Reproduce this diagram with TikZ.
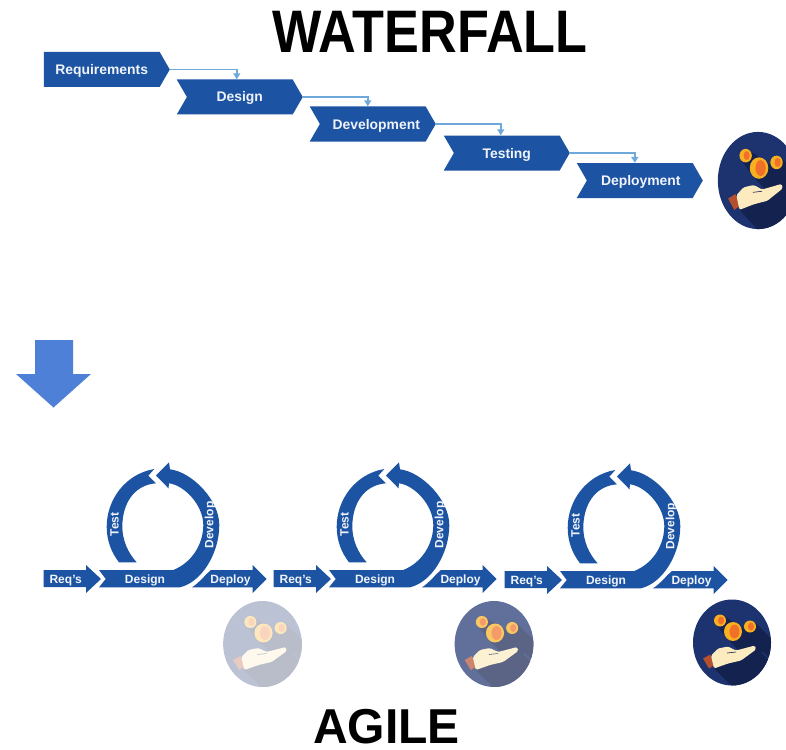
\documentclass[tikz,border=0pt]{standalone}
\usepackage{fontspec}
\setmainfont{Liberation Sans}
\usetikzlibrary{shapes.symbols,arrows.meta}
\definecolor{flowblue}{HTML}{1C54A3}
\definecolor{textwhite}{HTML}{F0F3FA}
\definecolor{linkblue}{HTML}{6FA8DA}
\definecolor{bigarrow}{HTML}{4F80D8}
\definecolor{navy}{HTML}{1C3370}
\definecolor{shade}{HTML}{14224F}
\definecolor{gold}{HTML}{F8B020}
\definecolor{orangecore}{HTML}{F0702A}
\definecolor{skin}{HTML}{FBEBBE}
\definecolor{cuff}{HTML}{B5502F}
\tikzset{
  wfbox/.style={shape=signal,signal to=east,signal from=west,signal pointer angle=120,
    fill=flowblue,text=textwhite,inner sep=0pt,minimum width=126pt,minimum height=35pt,
    text height=10pt,text depth=0pt,
    font=\fontsize{13.9}{14}\selectfont\bfseries},
  wffirst/.style={wfbox,signal from=nowhere},
  link/.style={draw=linkblue,line width=1.5pt,-{Triangle[length=6pt,width=7pt]}},
  flowshape/.style={fill=flowblue},
  flowtext/.style={text=textwhite,font=\fontsize{12}{12}\selectfont\bfseries,inner sep=0pt,text height=8.6pt,text depth=0pt},
  title/.style={text=black,font=\fontsize{60}{60}\selectfont\bfseries,inner sep=0pt}
}
\newcommand{\moneyicon}[5]{%
\begin{scope}[shift={(#1,#2)},xscale=#3,yscale=#4]
  \begin{scope}
    \clip (0,0) ellipse [x radius=39,y radius=43];
    \fill[navy!#5!white] (-40,-44) rectangle (40,44);
    \fill[shade!#5!white] (-18,26) -- (24,5) -- (64,45) -- (30,70) -- (26,70) -- cycle;
    \fill[shade!#5!white] (-16,-18) -- (-8,-26) -- (6,-18) -- (-6,-5) -- cycle;
    \fill[shade!#5!white] (-6,-5) -- (8,-17) -- (38,11) -- (23,8) -- (8,9) -- cycle;
    \fill[shade!#5!white] (13,-12) -- (23,-20) -- (58,15) -- (45,25) -- cycle;
  \end{scope}
  \fill[cuff!#5!white] (-29,16) -- (-22,12) -- (-17,22) -- (-23,26) -- cycle;
  \fill[skin!#5!white,rounded corners=1.5pt] (-21,13) -- (-14,6) -- (-4,4) -- (4,8) -- (23,3) -- (24,7) -- (9,18) -- (-4,21) -- (-18,26) -- cycle;
  \draw[shade!#5!white,line width=.6pt] (-5,10.5) -- (4,9.5);
  \fill[gold!#5!white] (-12,-22) ellipse [x radius=6,y radius=6];
  \fill[orangecore!#5!white] (-11,-22) ellipse [x radius=3,y radius=4];
  \fill[gold!#5!white] (1,-11) ellipse [x radius=9,y radius=9.5];
  \fill[orangecore!#5!white] (2.5,-11) ellipse [x radius=5,y radius=7];
  \fill[gold!#5!white] (18,-16) ellipse [x radius=6,y radius=6];
  \fill[orangecore!#5!white] (19,-16) ellipse [x radius=3,y radius=4];
\end{scope}}
\newcommand{\agileloop}[2]{%
\begin{scope}[shift={(#1,#2)}]
  % Req's
  \fill[flowshape] (43.5,570) -- (86,570) -- (86,565) -- (101,579) -- (86,593) -- (86,587) -- (43.5,587) -- cycle;
  % Design + Develop
  \fill[flowshape] (99,570) -- (105.7,579) -- (99,587.3) -- (180,587.3)
    .. controls (202,582) and (219.3,553) .. (219.3,525)
    .. controls (219.3,500) and (192,472) .. (170,469.3)
    -- (169,462.3) -- (156,475.5) -- (168.5,488.3) -- (169,483.3)
    .. controls (184,485) and (203.3,505) .. (203.3,525)
    .. controls (203.3,543) and (193,562) .. (173.3,570) -- cycle;
  % Test
  \fill[flowshape] (119,562.3) .. controls (111,552) and (106.7,540) .. (106.7,526.7)
    .. controls (106.7,500) and (125,474) .. (154.3,469)
    -- (148.3,475.7) -- (156,483.3)
    .. controls (133,485) and (122.3,505) .. (122.3,526.7)
    .. controls (122.3,540) and (128,553) .. (136.7,562.3) -- cycle;
  % Deploy
  \fill[flowshape] (192,587.3) .. controls (199,583) and (205,575) .. (211,570)
    -- (252.7,570) -- (252.7,565) -- (266.7,579) -- (252.7,593) -- (252.7,587.3) -- cycle;
  \node[flowtext] (req#1) at (65.7,579) {Req's};
  \node[flowtext] (des#1) at (145,579) {Design};
  \node[flowtext] (dep#1) at (230.5,579) {Deploy};
  \node[flowtext,rotate=90] (tes#1) at (114.3,524.5) {Test};
  \node[flowtext,rotate=90] (dev#1) at (209,525) {Develop};
\end{scope}}
\begin{document}
\begin{tikzpicture}[x=1pt,y=-1pt]
\clip (0,0) rectangle (786,749);
\path[use as bounding box] (0,0) rectangle (786,749);
\fill[white] (0,0) rectangle (786,749);
\node[title,xscale=.87] (wftitle) at (430,32) {WATERFALL};
\node[title,font=\fontsize{49}{49}\selectfont\bfseries,xscale=.98] (agtitle) at (386.5,727) {AGILE};
\node[wffirst,anchor=east] (n1) at (170,69.5) {Requirements};
\node[wfbox,anchor=east] (n2) at (303,97) {Design};
\node[wfbox,anchor=east] (n3) at (436,124) {\hspace*{7pt}Development};
\node[wfbox,anchor=east] (n4) at (570,153) {Testing};
\node[wfbox,anchor=east] (n5) at (703,180.5) {\hspace*{2pt}Deployment};
\draw[link] (n1.east) -| ([xshift=-3pt]n2.north);
\draw[link] (n2.east) -| ([xshift=-5pt]n3.north);
\draw[link] (n3.east) -| ([xshift=-6pt]n4.north);
\draw[link] (n4.east) -| ([xshift=-5pt]n5.north);
\moneyicon{758}{180.5}{1.03}{1.13}{100}
\fill[bigarrow] (35,340) -- (73,340) -- (73,374) -- (91,374) -- (53.5,407.5) -- (16,374) -- (35,374) -- cycle;
\agileloop{0}{0}
\agileloop{230}{0}
\agileloop{461}{1}
\moneyicon{262.5}{644}{1.01}{1}{30}
\moneyicon{494}{644}{1.01}{1}{70}
\moneyicon{732}{642.5}{1}{1}{100}
\end{tikzpicture}
\end{document}
